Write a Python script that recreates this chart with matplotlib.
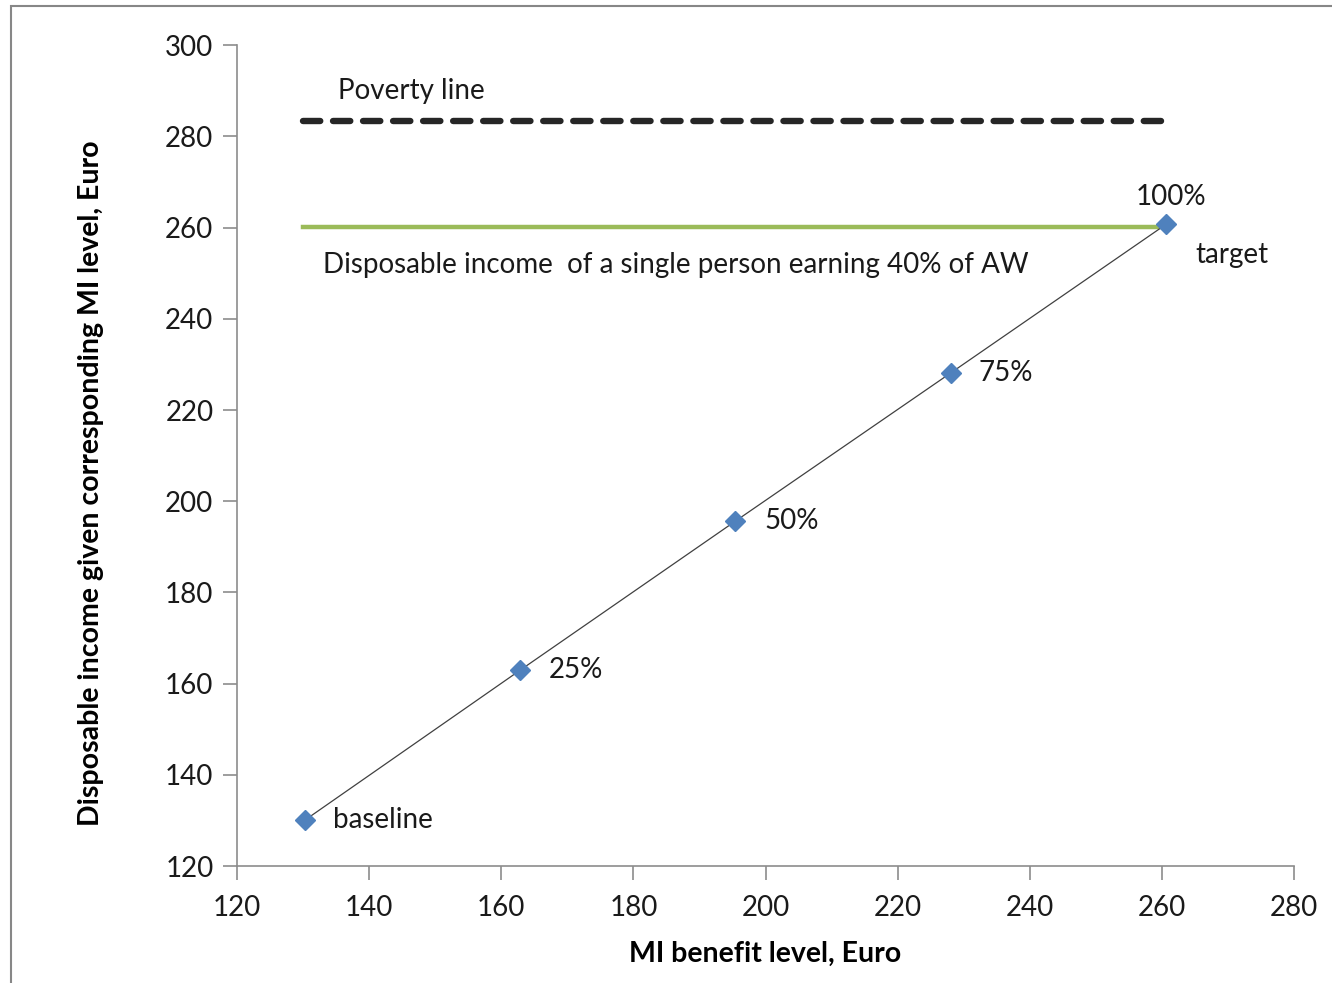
import matplotlib
matplotlib.use('Agg')
from matplotlib import pyplot as plt
from matplotlib.patches import Rectangle

plt.rcParams['font.family'] = ['Lato', 'DejaVu Sans']

# MI scenarios: benefit level vs. resulting disposable income
mi_benefit = [130.3, 162.9, 195.4, 228.0, 260.6]
disp_income = [130.1, 163.0, 195.6, 228.1, 260.7]
point_labels = ['baseline', '25%', '50%', '75%', '100%']

poverty_line = 283.3
aw40_income = 260.1
ref_x = [130.0, 261.0]

FS = 20

fig = plt.figure(figsize=(13.32, 9.83), dpi=100)
ax = fig.add_axes([0.178, 0.119, 0.7935, 0.835])

# outer frame of the chart area
fig.patches.append(Rectangle((0.0085, -0.1), 1.2, 1.094, transform=fig.transFigure,
                             fill=False, edgecolor='#878787', linewidth=1.5))

ax.plot(ref_x, [poverty_line, poverty_line], color='#262626', linewidth=4.6,
        linestyle=(0, (2.7, 2.0)), dash_capstyle='round')
ax.plot(ref_x[:1] + [260.6], [aw40_income, aw40_income], color='#9BBB59',
        linewidth=3.2)
ax.plot(mi_benefit, disp_income, color='#404040', linewidth=0.9, zorder=3)
ax.plot(mi_benefit, disp_income, linestyle='none', marker='D', markersize=10,
        color='#4F81BD', zorder=4)

# point labels
offsets = [(20, 0), (20, 0), (21, 0), (20, 0), (4, 20)]
for x, y, lab, off in zip(mi_benefit, disp_income, point_labels, offsets):
    ha = 'center' if lab == '100%' else 'left'
    ax.annotate(lab, (x, y), xytext=off, textcoords='offset points',
                ha=ha, va='center', fontsize=FS, color='#1a1a1a')
ax.annotate('target', (mi_benefit[-1], disp_income[-1]), xytext=(21, -22),
            textcoords='offset points', ha='left', va='center', fontsize=FS,
            color='#1a1a1a')

ax.text(135.3, 290.0, 'Poverty line', ha='left', va='center',
        fontsize=FS, color='#1a1a1a')
ax.text(133.0, 251.8,
        'Disposable income  of a single person earning 40% of AW',
        ha='left', va='center', fontsize=FS, color='#1a1a1a')

ax.set_xlim(120, 280)
ax.set_ylim(120, 300)
ax.set_xticks(range(120, 281, 20))
ax.set_yticks(range(120, 301, 20))

for side in ['top', 'right']:
    ax.spines[side].set_visible(False)
for side in ['left', 'bottom']:
    ax.spines[side].set_color('#8c8c8c')
    ax.spines[side].set_linewidth(1.2)
ax.tick_params(axis='both', direction='out', length=10, width=1.2,
               color='#8c8c8c', labelsize=FS, labelcolor='#1a1a1a')
ax.tick_params(axis='x', pad=11)
ax.tick_params(axis='y', pad=7)

ax.set_xlabel('MI benefit level, Euro', fontsize=20.5, fontweight='bold',
              labelpad=14)
ax.set_ylabel('Disposable income given corresponding MI level, Euro',
              fontsize=20.5, fontweight='bold')
ax.yaxis.set_label_coords(-0.126, 0.4665)

plt.savefig('out.png', dpi=100)
